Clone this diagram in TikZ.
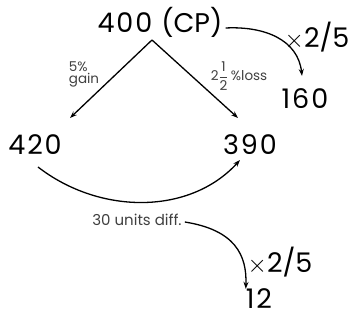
\documentclass[tikz,border=0pt]{standalone}
\usepackage{fontspec}
\setmainfont{Poppins}
\usepackage{tikz}
\usetikzlibrary{arrows.meta}
\tikzset{
  big/.style={font=\fontsize{27}{28}\selectfont\addfontfeature{LetterSpace=7},inner sep=0pt},
  sml/.style={font=\fontsize{13.5}{14}\selectfont,inner sep=0pt,text=black!75,align=left},
  ar/.style={line width=1.3pt,-{Stealth[length=7pt,width=5pt]}}
}
\newcommand{\halfbar}{$\displaystyle\frac{\mbox{1}}{\mbox{2}}$}
\begin{document}
\begin{tikzpicture}[x=1pt,y=-1pt]
\useasboundingbox (0,0) rectangle (353,320);
\node[big] (cp) at (160,22) {400 {\addfontfeature{LetterSpace=0}(CP)}};
\node[big] (p420) at (35,145) {420};
\node[big] (p390) at (250,145) {390};
\node[big] (p160) at (305,99) {160};
\node[big] (p12) at (259,299) {12};
\node[big] (xa) at (317,37) {{\addfontfeature{LetterSpace=0}$\times$2/5}};
\node[big] (xb) at (280,262) {{\addfontfeature{LetterSpace=0}$\times$2/5}};
\node[sml] (gain) at (84,74) {5\%\\[-2pt]gain};
\node[sml] (loss) at (239,76) {2\halfbar\,\%loss};
\node[sml,font=\fontsize{15}{16}\selectfont] (diff) at (137,220) {30 units diff.};
\coordinate (apex) at (152,40);
\coordinate (e420) at (70,118);
\coordinate (e390) at (238,118);
\coordinate (e160) at (302,76);
\coordinate (f390) at (240,160);
\draw[ar] (apex) -- (e420);
\draw[ar] (apex) -- (e390);
\draw[ar] (cp.east) ++(3,6) .. controls (265,26) and (298,40) .. (e160);
\draw[ar] (38,167) .. controls (100,215) and (190,215) .. (f390);
\draw[ar] (diff.east) ++(3,2) .. controls (235,230) and (247,255) .. (p12.north west);
\end{tikzpicture}
\end{document}
